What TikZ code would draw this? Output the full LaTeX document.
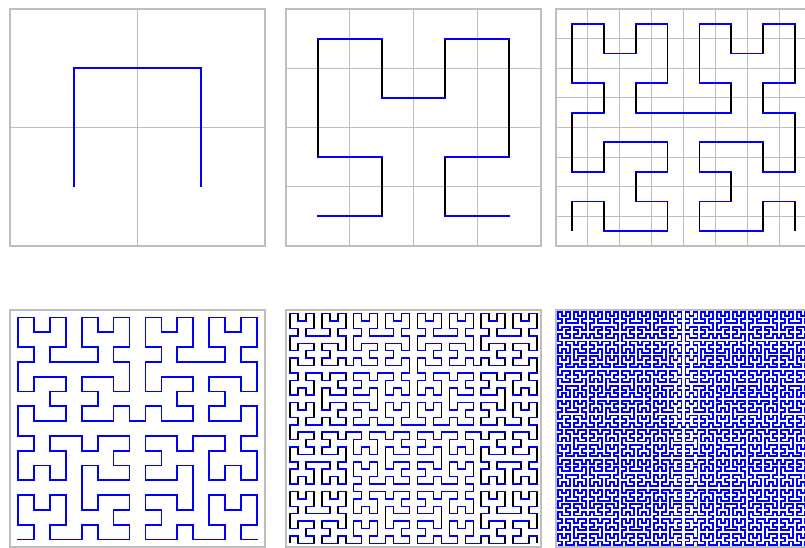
\documentclass[tikz,border=0pt]{standalone}
\usetikzlibrary{calc}
\definecolor{hilbblue}{HTML}{0000FF}
\definecolor{gridgray}{HTML}{BEBEBE}

% counters for the Hilbert index -> cell conversion
\newcount\hT \newcount\hX \newcount\hY \newcount\hS
\newcount\hRX \newcount\hRY \newcount\hTmp
% \hilbxy{grid size}{index} -> \hX, \hY
\def\hilbxy#1#2{%
  \hT=\numexpr#2\relax \hX=0 \hY=0 \hS=1
  \loop\ifnum\hS<#1
    \hTmp=\hT \divide\hTmp by 2
    \hRX=\hTmp \divide\hRX by 2 \multiply\hRX by 2
    \hRX=\numexpr\hTmp-\hRX\relax
    \hTmp=\hT \divide\hTmp by 2 \multiply\hTmp by 2
    \hTmp=\numexpr\hT-\hTmp\relax
    \ifnum\hTmp=\hRX \hRY=0 \else \hRY=1 \fi
    \ifnum\hRY=0
      \ifnum\hRX=1
        \hX=\numexpr\hS-1-\hX\relax \hY=\numexpr\hS-1-\hY\relax
      \fi
      \hTmp=\hX \hX=\hY \hY=\hTmp
    \fi
    \advance\hX by \numexpr\hS*\hRX\relax
    \advance\hY by \numexpr\hS*\hRY\relax
    \divide\hT by 4
    \multiply\hS by 2
  \repeat}

\begin{document}
\begin{tikzpicture}[x=1pt, y=-1pt,
    gridline/.style={color=gridgray, line width=1.1pt},
    vpath/.style={line join=miter, line cap=butt},
    hpath/.style={color=hilbblue, line cap=rect}
]
\useasboundingbox (0,0) rectangle (805,548);

% one panel per order of the curve
\foreach \ord/\lft/\tp/\lw/\vcol in {1/10/9/1.8/hilbblue, 2/286/9/1.8/black,
    3/556/9/1.8/black, 4/10/310/1.8/hilbblue, 5/286/310/1.5/black,
    6/556/310/1.9/hilbblue}{
  \pgfmathtruncatemacro\hN{2^\ord}
  \pgfmathtruncatemacro\hNm{\hN-1}
  \pgfmathtruncatemacro\last{\hN*\hN-2}
  \pgfmathtruncatemacro\lastp{\hN*\hN-1}
  \pgfmathsetmacro\cw{255/\hN}
  \pgfmathsetmacro\ch{237/\hN}
  \begin{scope}[shift={(\lft,\tp+237)}, x=\cw pt, y=\ch pt]
    \ifnum\ord<4
      \foreach \i in {1,...,\hNm}{
        \draw[gridline] (\i,0) -- (\i,\hN);
        \draw[gridline] (0,\i) -- (\hN,\i);
      }
    \fi
    \draw[gridline] (0,0) rectangle (\hN,\hN);
    % whole curve
    \draw[vpath, color=\vcol, line width=\lw pt] (0.5,0.5)
      \foreach \d in {1,...,\lastp}{
        \pgfextra{\hilbxy{\hN}{\d}\xdef\xb{\the\hX}\xdef\yb{\the\hY}}
        -- (\xb+0.5,\yb+0.5)};
    % horizontal steps on top
    \ifnum\ord>1 \ifnum\ord<6
    \draw[hpath, line width=\lw pt]
      \foreach \d in {0,...,\last}{
        \pgfextra{\hilbxy{\hN}{\d}\xdef\xa{\the\hX}\xdef\ya{\the\hY}%
          \hilbxy{\hN}{\d+1}\xdef\xb{\the\hX}\xdef\yb{\the\hY}%
          \ifnum\ya=\yb\else\xdef\xb{\xa}\fi}
        (\xa+0.5,\ya+0.5) -- (\xb+0.5,\ya+0.5)};
    \fi \fi
  \end{scope}
}
\end{tikzpicture}
\end{document}
